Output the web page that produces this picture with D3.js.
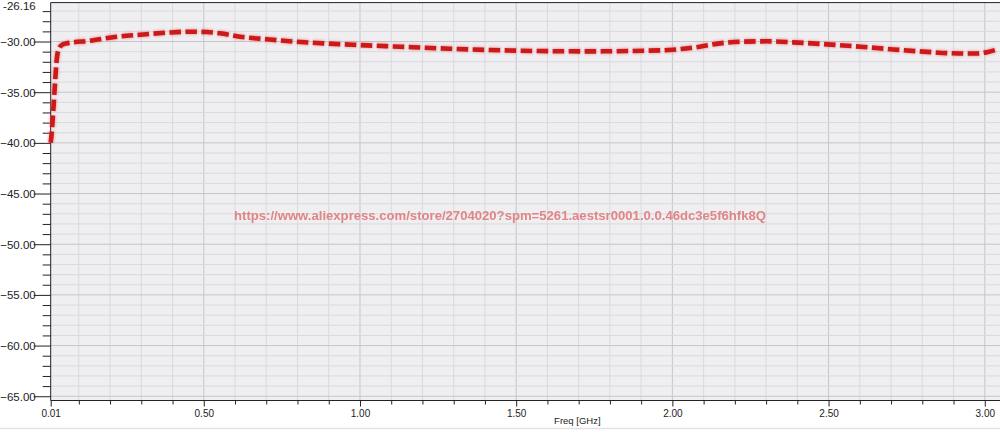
<!DOCTYPE html>
<html>
<head>
<meta charset="utf-8">
<script src="https://cdn.jsdelivr.net/npm/d3@7"></script>
<style>
  html, body { margin: 0; padding: 0; background: #ffffff; overflow: hidden; }
  svg { display: block; }
  text { font-family: Arial, "Liberation Sans", sans-serif; }
</style>
</head>
<body>
<svg id="chart" width="1000" height="432"></svg>
<script>
// ---- data ----
const freqGHz = [0.010, 0.0132, 0.0183, 0.0238, 0.0292, 0.0343, 0.0452, 0.0612, 0.0718, 0.136, 0.209, 0.296, 0.382, 0.456, 0.510, 0.552, 0.616, 0.702, 0.786, 0.882, 1.00, 1.128, 1.288, 1.416, 1.576, 1.736, 1.912, 2.002, 2.088, 2.152, 2.216, 2.303, 2.386, 2.495, 2.601, 2.706, 2.815, 2.920, 2.975, 3.007, 3.039];
const gainDb  = [-40.0, -39.0, -36.8, -34.1, -31.8, -30.85, -30.35, -30.18, -30.12, -29.92, -29.58, -29.33, -29.13, -29.03, -29.06, -29.19, -29.53, -29.78, -30.0, -30.18, -30.35, -30.51, -30.71, -30.84, -30.94, -30.97, -30.91, -30.81, -30.51, -30.18, -30.02, -29.98, -30.08, -30.28, -30.51, -30.78, -31.02, -31.18, -31.18, -31.05, -30.78];
const xTickLabels = [0.01, 0.50, 1.00, 1.50, 2.00, 2.50, 3.00];
const yTickLabels = [-65, -60, -55, -50, -45, -40, -35, -30];
const yTopLabel = -26.16;
const xAxisTitle = "Freq [GHz]";
const watermark = "https://www.aliexpress.com/store/2704020?spm=5261.aestsr0001.0.0.46dc3e5f6hfk8Q";

// ---- layout ----
const plotLeft = 50.7, plotTop = 2.6, plotBottom = 400.5, plotRight = 1104;
const xMin = 0.01, xMax = 0.01 + (plotRight - plotLeft) / 312.4;
const yMin = -65.42, yMax = yTopLabel;

const svg = d3.select("#chart");
const x = d3.scaleLinear().domain([xMin, xMax]).range([plotLeft, plotRight]);
const y = d3.scaleLinear().domain([yMin, yMax]).range([plotBottom, plotTop]);

// plot background
svg.append("rect").attr("x", plotLeft).attr("y", plotTop)
  .attr("width", plotRight - plotLeft).attr("height", plotBottom - plotTop)
  .attr("fill", "#efeef1");

// grid
const xMinor = d3.range(1, 34).map(i => +(i * 0.1).toFixed(2));
const yMinor = d3.range(-65, -26, 1);
const g = svg.append("g");
g.selectAll(".vg").data(xMinor).join("line")
  .attr("x1", d => x(d)).attr("x2", d => x(d))
  .attr("y1", plotTop).attr("y2", plotBottom)
  .attr("stroke", d => (Math.round(d * 10) % 5 === 0) ? "#c6c5ca" : "#dad9de")
  .attr("stroke-width", 1);
g.selectAll(".hg").data(yMinor).join("line")
  .attr("x1", plotLeft).attr("x2", plotRight)
  .attr("y1", d => y(d)).attr("y2", d => y(d))
  .attr("stroke", d => (d % 5 === 0) ? "#c6c5ca" : "#dad9de")
  .attr("stroke-width", 1);

// y axis
const yAxisMinor = d3.axisLeft(y).tickValues(yMinor.filter(d => d % 5 !== 0)).tickSize(8).tickFormat("");
const yAxisMajor = d3.axisLeft(y).tickValues(yTickLabels).tickSize(17).tickPadding(-1).tickFormat(d3.format(".2f"));
const ya1 = svg.append("g").attr("transform", `translate(${plotLeft},0)`).call(yAxisMinor);
const ya2 = svg.append("g").attr("transform", `translate(${plotLeft},0)`).call(yAxisMajor);
[ya1, ya2].forEach(a => { a.select(".domain").remove(); a.selectAll("line").attr("stroke", "#222"); });
ya2.selectAll("text").attr("font-size", "11.5px").attr("fill", "#222").attr("x", -15).attr("dy", "0.35em");
svg.append("text").attr("x", plotLeft - 15).attr("y", y(yTopLabel) + 7.5)
  .attr("text-anchor", "end").attr("font-size", "11.5px").attr("fill", "#222").text(yTopLabel.toFixed(2));

// x axis
const xAxisMinor = d3.axisBottom(x).tickValues(xMinor.filter(d => Math.round(d * 10) % 5 !== 0)).tickSize(4).tickFormat("");
const xAxisMajor = d3.axisBottom(x).tickValues(xTickLabels).tickSize(6).tickPadding(3).tickFormat(d3.format(".2f"));
const xa1 = svg.append("g").attr("transform", `translate(0,${plotBottom})`).call(xAxisMinor);
const xa2 = svg.append("g").attr("transform", `translate(0,${plotBottom})`).call(xAxisMajor);
[xa1, xa2].forEach(a => { a.select(".domain").remove(); a.selectAll("line").attr("stroke", "#222"); });
xa2.selectAll("text").attr("font-size", "10px").attr("fill", "#222");

// frame lines
svg.append("line").attr("x1", plotLeft).attr("x2", plotRight).attr("y1", plotBottom).attr("y2", plotBottom).attr("stroke", "#222");
svg.append("line").attr("x1", plotLeft).attr("x2", plotRight).attr("y1", plotTop).attr("y2", plotTop).attr("stroke", "#222");
svg.append("line").attr("x1", plotLeft).attr("x2", plotLeft).attr("y1", plotTop).attr("y2", plotBottom).attr("stroke", "#222");

// x axis title
svg.append("text").attr("x", (plotLeft + plotRight) / 2).attr("y", 424)
  .attr("text-anchor", "middle").attr("font-size", "9.5px").attr("fill", "#222").text(xAxisTitle);

// bottom separator
svg.append("line").attr("x1", 0).attr("x2", 1000).attr("y1", 428.5).attr("y2", 428.5).attr("stroke", "#e2e2e4").attr("stroke-width", 1.5);

// watermark
svg.append("text").attr("x", 234).attr("y", 219.5)
  .attr("font-size", "12.5px").attr("font-weight", "bold").attr("fill", "#e07a7a").attr("opacity", 0.9)
  .attr("textLength", 532).attr("lengthAdjust", "spacingAndGlyphs")
  .text(watermark);

// curve
const defs = svg.append("defs");
defs.append("filter").attr("id", "glow").attr("x", "-5%").attr("y", "-50%").attr("width", "110%").attr("height", "200%")
  .append("feGaussianBlur").attr("stdDeviation", 1.2);
const data = freqGHz.map((f, i) => [f, gainDb[i]]);
const line = d3.line().x(d => x(d[0])).y(d => y(d[1])).curve(d3.curveMonotoneX);
svg.append("path").datum(data).attr("d", line).attr("fill", "none")
  .attr("stroke", "#ee7070").attr("stroke-width", 6.5).attr("stroke-dasharray", "12,4").attr("opacity", 0.45)
  .attr("filter", "url(#glow)");
svg.append("path").datum(data).attr("d", line).attr("fill", "none")
  .attr("stroke", "#cc1a1a").attr("stroke-width", 4.6).attr("stroke-dasharray", "11.5,4.5")
  .attr("stroke-linejoin", "round");
</script>
</body>
</html>
